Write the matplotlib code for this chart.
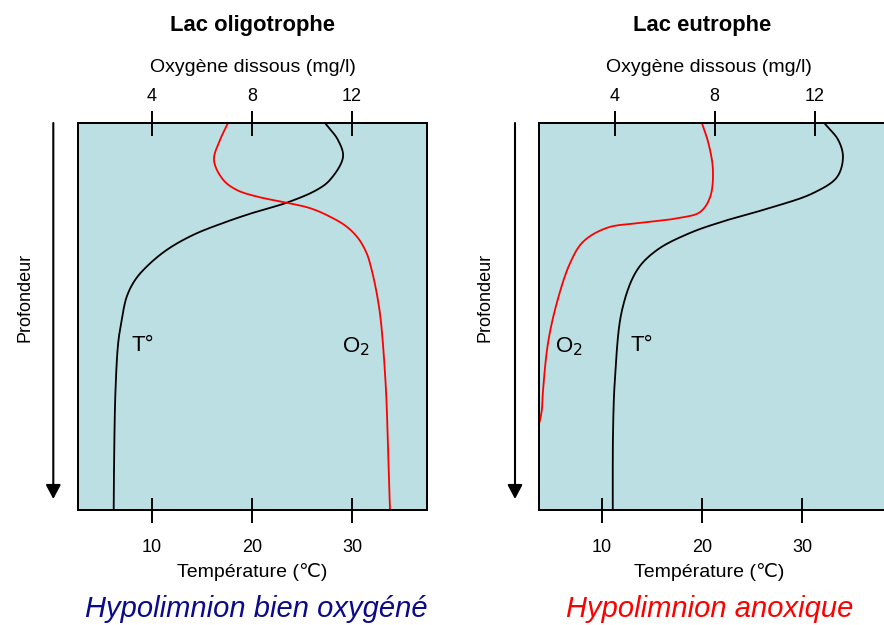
import numpy as np
import matplotlib
matplotlib.use("Agg")
import matplotlib.pyplot as plt
from matplotlib.patches import FancyArrowPatch

plt.rcParams['font.family'] = ['Liberation Sans', 'DejaVu Sans']

# ---------------- data ----------------
# Lac oligotrophe
oligo_T_depth = [0, 4.4, 8.8, 14.7, 17.3, 20.6, 22.9, 25.5, 28.9, 32.8, 37.1, 40.6, 44.9, 50.9, 56.8, 69.0, 85.0, 100]
oligo_T = [27.3, 28.6, 29.1, 27.8, 26.47, 23.47, 20.47, 17.47, 14.13, 11.47, 9.47, 8.3, 7.47, 6.97, 6.62, 6.35, 6.22, 6.17]
oligo_O2_depth = [0, 4.4, 9.6, 14.7, 17.3, 19.0, 20.6, 22.0, 24.2, 26.8, 29.8, 33.7, 38.0, 44.0, 50.9, 69.0, 84.5, 100]
oligo_O2 = [7.04, 6.72, 6.48, 6.85, 7.39, 8.19, 9.39, 10.32, 11.12, 11.79, 12.25, 12.59, 12.79, 12.99, 13.15, 13.36, 13.44, 13.52]

# Lac eutrophe
eutro_T_depth = [0, 4.4, 8.8, 14.0, 18.1, 21.7, 25.1, 28.4, 32.8, 38.0, 48.3, 65.6, 79.3, 100]
eutro_T = [32.2, 33.6, 34.07, 33.47, 31.1, 27.1, 22.5, 18.8, 15.5, 13.5, 12.0, 11.3, 11.1, 11.07]
eutro_O2_depth = [0, 5.2, 12.1, 19.1, 23.0, 24.5, 25.8, 27.1, 30.7, 36.2, 46.5, 56.8, 69.0, 74.2, 77.5, 79.0]
eutro_O2 = [7.49, 7.75, 7.93, 7.82, 7.42, 6.62, 5.02, 3.69, 2.74, 2.22, 1.69, 1.34, 1.14, 1.09, 0.99, 0.9]

temp_ticks = [10, 20, 30]
o2_ticks = [4, 8, 12]

titles = ["Lac oligotrophe", "Lac eutrophe"]
subtitles = ["Hypolimnion bien oxygéné", "Hypolimnion anoxique"]
subtitle_colors = ["#0a0a8a", "#ff0000"]

BG = "#bbdfe2"


def smooth_curve(xs, ys, sx, sy, n=30):
    """Centripetal Catmull-Rom through the points (computed in a scaled space)."""
    P = np.column_stack([np.asarray(xs, float) * sx, np.asarray(ys, float) * sy])
    P = np.vstack([2 * P[0] - P[1], P, 2 * P[-1] - P[-2]])
    out = []
    for i in range(1, len(P) - 2):
        p0, p1, p2, p3 = P[i - 1], P[i], P[i + 1], P[i + 2]
        t0 = 0.0
        t1 = t0 + np.linalg.norm(p1 - p0) ** 0.5
        t2 = t1 + np.linalg.norm(p2 - p1) ** 0.5
        t3 = t2 + np.linalg.norm(p3 - p2) ** 0.5
        t = np.linspace(t1, t2, n)[:, None]
        a1 = (t1 - t) / (t1 - t0) * p0 + (t - t0) / (t1 - t0) * p1
        a2 = (t2 - t) / (t2 - t1) * p1 + (t - t1) / (t2 - t1) * p2
        a3 = (t3 - t) / (t3 - t2) * p2 + (t - t2) / (t3 - t2) * p3
        b1 = (t2 - t) / (t2 - t0) * a1 + (t - t0) / (t2 - t0) * a2
        b2 = (t3 - t) / (t3 - t1) * a2 + (t - t1) / (t3 - t1) * a3
        c = (t2 - t) / (t2 - t1) * b1 + (t - t1) / (t2 - t1) * b2
        out.append(c if i == 1 else c[1:])
    C = np.vstack(out)
    return C[:, 0] / sx, C[:, 1] / sy


fig = plt.figure(figsize=(8.84, 6.25), dpi=100)
W, H = 884.0, 625.0

panels = [
    dict(left=78, tlim=(2.6, 37.5), olim=(1.04, 15.0),
         T=(oligo_T, oligo_T_depth), O=(oligo_O2, oligo_O2_depth),
         tlabel=(9.05, 57.4), olabel=(30.4, 57.9), cx=252.5, tx=252, sx=256, arrow_x=53.3, prof_x=25),
    dict(left=539.3, tlim=(3.73, 38.6), olim=(0.99, 14.94),
         T=(eutro_T, eutro_T_depth), O=(eutro_O2, eutro_O2_depth),
         tlabel=(14.0, 57.4), olabel=(6.7, 57.9), cx=709, tx=702, sx=710, arrow_x=515, prof_x=485),
]

for k, p in enumerate(panels):
    ax = fig.add_axes([p['left'] / W, (H - 510) / H, 349 / W, 387 / H])
    ax.set_facecolor(BG)
    ax.set_xlim(*p['tlim'])
    ax.set_ylim(100, 0)
    ax.set_yticks([])
    ax.set_xticks(temp_ticks)
    ax.tick_params(axis='x', direction='inout', length=18, width=1.4, labelsize=13, pad=12)
    for s in ax.spines.values():
        s.set_linewidth(1.4)
        s.set_color('black')

    ax2 = ax.twiny()
    ax2.set_xlim(*p['olim'])
    ax2.set_xticks(o2_ticks)
    ax2.tick_params(axis='x', direction='inout', length=18, width=1.4, labelsize=13, pad=4)
    for s in ax2.spines.values():
        s.set_linewidth(1.4)

    tx, td = p['T']
    cx_, cy_ = smooth_curve(tx, td, 10.0, 3.87)
    ax.plot(cx_, cy_, color='black', lw=1.3, solid_capstyle='butt')
    ox, od = p['O']
    cx_, cy_ = smooth_curve(ox, od, 25.0, 3.87)
    ax2.plot(cx_, cy_, color='#ff0000', lw=1.3, solid_capstyle='butt')

    ax.text(p['tlabel'][0], p['tlabel'][1], "T°", fontsize=16, ha='center', va='center')
    ax.text(p['olabel'][0], p['olabel'][1], "O$_2$", fontsize=16, ha='center', va='center')

    fig.text(p['tx'] / W, 1 - 25 / H, titles[k], fontsize=15.8, fontweight='bold',
             ha='center', va='center')
    fig.text(p['cx'] / W, 1 - 67 / H, "Oxygène dissous (mg/l)", fontsize=14,
             ha='center', va='center')
    fig.text(p['cx'] / W, 1 - 572 / H, "Température (\u2103)", fontsize=14,
             ha='center', va='center')
    fig.text(p['sx'] / W, 1 - 609 / H, subtitles[k], fontsize=21, style='italic',
             color=subtitle_colors[k], ha='center', va='center')

    arr = FancyArrowPatch((p['arrow_x'] / W, 1 - 123 / H), (p['arrow_x'] / W, 1 - 499 / H),
                          transform=fig.transFigure, arrowstyle='-|>,head_length=0.85,head_width=0.45',
                          mutation_scale=10, lw=1.5, color='black', shrinkA=0, shrinkB=0)
    fig.add_artist(arr)
    fig.text(p['prof_x'] / W, 1 - 297 / H, "Profondeur", fontsize=13, rotation=90,
             ha='center', va='center')

fig.savefig("out.png", dpi=100)
